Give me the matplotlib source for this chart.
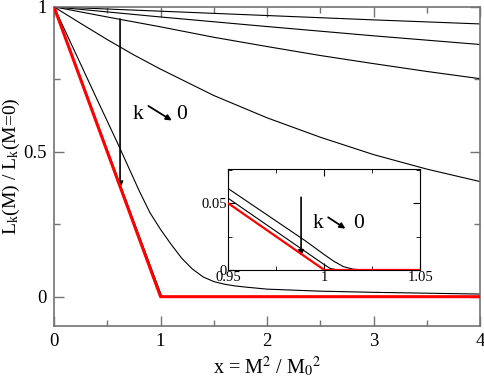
import numpy as np
import matplotlib
matplotlib.use("Agg")
import matplotlib.pyplot as plt
from matplotlib.ticker import MultipleLocator

plt.rcParams['font.family'] = ['Liberation Serif', 'DejaVu Sans']
plt.rcParams['mathtext.fontset'] = 'stix'

# red limiting curve (k -> 0)
x_red = [0.0, 1.0, 4.0]
y_red = [1.0, 0.0, 0.0]

# black curves, values
x_c1 = [0.0, 1.0, 2.0, 3.0, 4.0]
y_c1 = [1.0, 0.985, 0.970, 0.955, 0.941]

x_c2 = [0.0, 1.0, 2.0, 3.0, 4.0]
y_c2 = [1.0, 0.965, 0.932, 0.900, 0.870]

x_c3 = [0.0, 0.5, 1.0, 1.5, 2.0, 2.5, 3.0, 3.5, 4.0]
y_c3 = [1.0, 0.965, 0.931, 0.895, 0.863, 0.832, 0.804, 0.777, 0.752]

x_c4 = [0.0, 0.25, 0.5, 0.75, 1.0, 1.5, 2.0, 2.5, 3.0, 3.5, 4.0]
y_c4 = [1.0, 0.943, 0.887, 0.834, 0.785, 0.694, 0.617, 0.550, 0.490, 0.440, 0.397]

x_c5 = [0.0, 0.2, 0.4, 0.6, 0.8, 0.9, 1.0, 1.1, 1.2, 1.3, 1.4, 1.5, 1.6,
        1.7, 1.8, 2.0, 2.5, 3.0, 3.5, 4.0]
y_c5 = [1.0, 0.842, 0.684, 0.527, 0.365, 0.290, 0.232, 0.180, 0.132, 0.095,
        0.068, 0.052, 0.043, 0.037, 0.033, 0.026, 0.019, 0.015, 0.012, 0.009]

x_c6 = [0.0, 0.5, 0.95, 0.97, 0.99, 1.0, 1.005, 1.01, 1.015, 1.02, 1.03, 1.05, 4.0]
y_c6 = [1.0, 0.506, 0.061, 0.0415, 0.022, 0.0115, 0.0065, 0.0025, 0.0006,
        0.0001, 0.0, 0.0, 0.0]

x_c7 = [0.0, 0.5, 0.95, 1.0, 1.003, 1.006, 1.01, 4.0]
y_c7 = [1.0, 0.502, 0.0537, 0.004, 0.0012, 0.0003, 0.0, 0.0]

black_curves = [(x_c1, y_c1), (x_c2, y_c2), (x_c3, y_c3), (x_c4, y_c4),
                (x_c5, y_c5), (x_c6, y_c6), (x_c7, y_c7)]

fig = plt.figure(figsize=(4.85, 3.8), dpi=100)
ax = fig.add_axes([0.1113, 0.143, 0.879, 0.839])

for xs, ys in black_curves:
    ax.plot(xs, ys, color='black', lw=0.8)
ax.plot(x_red, y_red, color='#ff0000', lw=2.2, zorder=5)

ax.set_xlim(0, 4)
ax.set_ylim(-0.1, 1)
ax.xaxis.set_minor_locator(MultipleLocator(0.5))
ax.yaxis.set_minor_locator(MultipleLocator(0.25))
ax.set_xticks([0, 1, 2, 3, 4])
ax.set_xticklabels(['0', '1', '2', '3', '4'])
ax.set_yticks([0, 0.5, 1])
ax.set_yticklabels(['0', '0.5', '1'])
ax.tick_params(which='both', direction='in', top=True, right=True,
               color='0.45', labelsize=13.5, pad=5)
ax.tick_params(which='major', length=7, width=1)
ax.tick_params(which='minor', length=4, width=1)
for s in ax.spines.values():
    s.set_color('0.45')
    s.set_linewidth(1.2)

ax.set_xlabel(r'x = M$^2$ / M$_0$$^2$', fontsize=14.5, labelpad=3)
ax.set_ylabel(r'L$_\mathregular{k}$(M) / L$_\mathregular{k}$(M=0)', fontsize=14, labelpad=1)

# arrow and label in main panel
ax.annotate('', xy=(0.62, 0.375), xytext=(0.62, 0.958),
            arrowprops=dict(arrowstyle='-|>', color='black', lw=1.2,
                            mutation_scale=9, shrinkA=0, shrinkB=0))
ax.text(0.74, 0.627, 'k', fontsize=15.5, va='center', ha='left')
ax.annotate('', xy=(1.105, 0.608), xytext=(0.886, 0.658),
            arrowprops=dict(arrowstyle='-|>', color='black', lw=1.3,
                            mutation_scale=8, shrinkA=0, shrinkB=0))
ax.text(1.146, 0.627, '0', fontsize=15.5, va='center', ha='left')

# inset
ins = fig.add_axes([0.4707, 0.2895, 0.396, 0.266])
for xs, ys in black_curves[5:]:
    ins.plot(xs, ys, color='black', lw=0.8)
ins.plot(x_red, y_red, color='#ff0000', lw=1.6, zorder=5)
ins.set_xlim(0.95, 1.05)
ins.set_ylim(0, 0.0758)
ins.set_xticks([0.95, 1.0, 1.05])
ins.set_xticklabels(['0.95', '1', '1.05'])
ins.set_yticks([0, 0.05])
ins.set_yticklabels(['0', '0.05'])
ins.xaxis.set_minor_locator(MultipleLocator(0.025))
ins.yaxis.set_minor_locator(MultipleLocator(0.025))
ins.tick_params(which='both', direction='in', top=True, right=True,
                labelsize=10.5, pad=1)
ins.tick_params(which='major', length=5)
ins.tick_params(which='minor', length=3)

ins.annotate('', xy=(0.9879, 0.0105), xytext=(0.9879, 0.0545),
             arrowprops=dict(arrowstyle='-|>', color='black', lw=1.2,
                             mutation_scale=8, shrinkA=0, shrinkB=0))
ins.text(0.994, 0.035, 'k', fontsize=15.5, va='center', ha='left')
ins.annotate('', xy=(1.011, 0.031), xytext=(1.002, 0.0395),
             arrowprops=dict(arrowstyle='-|>', color='black', lw=1.3,
                             mutation_scale=8, shrinkA=0, shrinkB=0))
ins.text(1.015, 0.035, '0', fontsize=15.5, va='center', ha='left')

fig.savefig('out.png', dpi=100)
